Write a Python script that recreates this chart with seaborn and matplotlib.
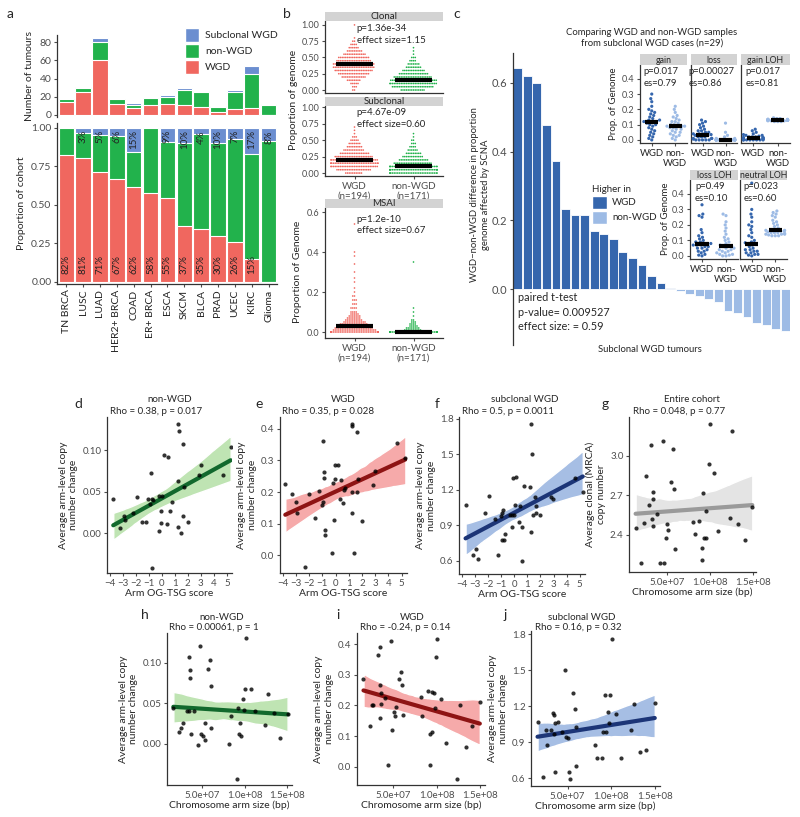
import warnings
import numpy as np
import pandas as pd
import matplotlib
matplotlib.use('Agg')
import matplotlib.pyplot as plt
from matplotlib.collections import PolyCollection
from matplotlib.patches import Patch
import seaborn as sns

warnings.filterwarnings('ignore')

# ---------------- data ----------------
# a: tumours per cancer type
cancer_types = ['TN BRCA', 'LUSC', 'LUAD', 'HER2+ BRCA', 'COAD', 'ER+ BRCA', 'ESCA',
                'SKCM', 'BLCA', 'PRAD', 'UCEC', 'KIRC', 'Glioma']
n_wgd = [14, 25, 60, 12, 8, 11, 12, 11, 9, 3, 7, 8, 0]
n_nonwgd = [3, 5, 20, 5, 3, 8, 8, 16, 16, 6, 18, 37, 11]
n_subclonal = [0, 1, 4, 1, 2, 0, 2, 3, 1, 1, 2, 9, 1]

# b: proportion of genome, read as (value, number of tumours)
prop_bins = [0.0, 0.05, 0.1, 0.15, 0.2, 0.25, 0.3, 0.35, 0.4, 0.45, 0.5,
             0.55, 0.6, 0.65, 0.7, 0.75, 0.8, 0.85, 0.9, 0.95, 1.0]
clonal_wgd_n = [2, 3, 5, 8, 14, 18, 22, 24, 24, 20, 18, 13, 9, 6, 4, 2, 1, 0, 0, 0, 1]
clonal_non_n = [14, 24, 28, 27, 22, 17, 13, 9, 7, 4, 3, 1, 1, 1, 0, 0, 0, 0, 0, 0, 0]
subclonal_wgd_n = [10, 20, 28, 30, 28, 22, 17, 12, 9, 7, 5, 3, 1, 1, 1, 0, 0, 0, 0, 0, 0]
subclonal_non_n = [30, 34, 30, 22, 17, 12, 9, 6, 4, 3, 2, 1, 1, 0, 0, 0, 0, 0, 0, 0, 0]
msai_bins = [0.0, 0.01, 0.02, 0.03, 0.04, 0.05, 0.06, 0.07, 0.08, 0.09, 0.1, 0.12, 0.14,
             0.16, 0.18, 0.2, 0.22, 0.25, 0.27, 0.3, 0.34, 0.35, 0.38, 0.4, 0.54]
msai_wgd_n = [43, 25, 22, 20, 16, 13, 10, 8, 7, 5, 4, 4, 3, 3, 2, 1, 1, 1, 1, 1, 1, 0, 1, 1, 1]
msai_non_n = [135, 10, 8, 5, 4, 3, 2, 0, 1, 0, 1, 1, 0, 0, 0, 0, 0, 0, 0, 0, 0, 1, 0, 0, 0]

# c: WGD - non-WGD difference per subclonal WGD tumour
wgd_minus_nonwgd = [0.644, 0.62, 0.60, 0.477, 0.373, 0.233, 0.216, 0.214, 0.170, 0.160,
                    0.145, 0.107, 0.090, 0.070, 0.037, 0.017, 0.002, -0.007, -0.014,
                    -0.021, -0.028, -0.039, -0.065, -0.070, -0.082, -0.100, -0.104,
                    -0.116, -0.121]
gain_wgd = [0.30, 0.27, 0.25, 0.22, 0.20, 0.19, 0.18, 0.17, 0.16, 0.15, 0.14, 0.13, 0.13, 0.12,
            0.12, 0.12, 0.11, 0.10, 0.10, 0.09, 0.08, 0.07, 0.06, 0.05, 0.04, 0.03, 0.02, 0.01, 0.0]
gain_non = [0.22, 0.20, 0.18, 0.16, 0.15, 0.14, 0.13, 0.12, 0.12, 0.11, 0.10, 0.10, 0.09, 0.09,
            0.09, 0.09, 0.08, 0.08, 0.07, 0.07, 0.06, 0.05, 0.05, 0.04, 0.03, 0.03, 0.02, 0.01, 0.0]
loss_wgd = [0.13, 0.12, 0.11, 0.10, 0.09, 0.08, 0.07, 0.06, 0.06, 0.05, 0.05, 0.04, 0.04, 0.04,
            0.035, 0.03, 0.03, 0.02, 0.02, 0.02, 0.01, 0.01, 0.01, 0.005, 0.0, 0.0, 0.0, 0.0, 0.0]
loss_non = [0.11, 0.05, 0.03, 0.02, 0.01, 0.01, 0.005, 0.005, 0.0, 0.0, 0.0, 0.0, 0.0, 0.0, 0.0,
            0.0, 0.0, 0.0, 0.0, 0.0, 0.0, 0.0, 0.0, 0.0, 0.0, 0.0, 0.0, 0.0, 0.0]
gainloh_wgd = [0.07, 0.06, 0.05, 0.04, 0.035, 0.03, 0.03, 0.025, 0.02, 0.02, 0.02, 0.015, 0.015,
               0.015, 0.015, 0.01, 0.01, 0.01, 0.005, 0.005, 0.005, 0.0, 0.0, 0.0, 0.0, 0.0,
               0.0, 0.0, 0.0]
gainloh_non = [0.145, 0.14, 0.14, 0.135, 0.135, 0.135, 0.13, 0.13, 0.13, 0.13, 0.13, 0.13, 0.13,
               0.13, 0.13, 0.13, 0.13, 0.13, 0.13, 0.13, 0.13, 0.13, 0.13, 0.125, 0.125, 0.125,
               0.12, 0.12, 0.12]
lossloh_wgd = [0.33, 0.27, 0.26, 0.25, 0.17, 0.15, 0.13, 0.12, 0.11, 0.10, 0.09, 0.09, 0.08,
               0.08, 0.08, 0.07, 0.07, 0.07, 0.06, 0.06, 0.05, 0.05, 0.04, 0.03, 0.03, 0.02,
               0.01, 0.005, 0.0]
lossloh_non = [0.27, 0.26, 0.22, 0.20, 0.18, 0.16, 0.14, 0.12, 0.11, 0.10, 0.09, 0.08, 0.07,
               0.065, 0.065, 0.06, 0.05, 0.05, 0.04, 0.04, 0.03, 0.03, 0.02, 0.02, 0.01, 0.01,
               0.005, 0.0, 0.0]
neutral_wgd = [0.47, 0.30, 0.27, 0.25, 0.22, 0.20, 0.19, 0.17, 0.15, 0.13, 0.12, 0.10, 0.09,
               0.085, 0.08, 0.08, 0.07, 0.06, 0.05, 0.04, 0.04, 0.03, 0.03, 0.02, 0.02, 0.01,
               0.01, 0.005, 0.0]
neutral_non = [0.29, 0.28, 0.27, 0.26, 0.25, 0.23, 0.22, 0.21, 0.20, 0.19, 0.18, 0.17, 0.17,
               0.165, 0.165, 0.16, 0.16, 0.155, 0.15, 0.15, 0.15, 0.145, 0.14, 0.14, 0.14,
               0.135, 0.13, 0.13, 0.13]

# d-f: arm OG-TSG score vs average arm-level copy number change
score_d = [-3.72, -3.2, -2.9, -2.82, -2.2, -1.92, -1.49, -1.2, -1.03, -0.85, -0.87, -0.77, -0.7,
           -0.77, -0.23, 0.03, -0.18, -0.03, -0.03, 0.18, 0.46, 0.38, 0.64, 0.77, 1.28, 1.28,
           1.31, 1.28, 1.46, 1.67, 1.69, 1.67, 2.03, 2.85, 3.03, 4.69, 5.3]
change_d = [0.041, 0.006, 0.021, 0.016, 0.024, 0.043, 0.013, 0.013, 0.041, 0.073, 0.035, 0.041,
            0.040, -0.042, 0.045, 0.045, 0.003, 0.027, 0.012, 0.094, 0.092, 0.011, 0.027, 0.038,
            0.063, 0.132, 0.123, 0.008, 0.000, 0.108, 0.056, 0.021, 0.013, 0.070, 0.082, 0.070,
            0.104]
score_e = [-3.8, -3.3, -3.0, -2.91, -1.98, -1.58, -1.28, -0.98, -1.06, -0.93, -0.9, -0.85, -0.83,
           -0.78, -0.23, -0.08, 0.15, -0.08, -0.1, -0.28, 0.3, 0.43, 0.58, 0.65, 0.75, 1.23, 1.26,
           1.61, 1.21, 1.23, 1.41, 1.63, 1.68, 1.98, 2.81, 2.99, 4.65, 5.28, -2.29]
change_e = [0.224, 0.193, 0.169, 0.133, 0.193, 0.119, 0.203, 0.362, 0.159, 0.167, 0.265, 0.246,
            0.079, 0.063, 0.228, 0.285, 0.285, 0.241, 0.110, 0.006, 0.178, 0.238, 0.164, 0.205,
            0.212, 0.415, 0.408, 0.389, 0.201, 0.133, 0.006, 0.199, 0.241, 0.107, 0.221, 0.267,
            0.356, 0.309, -0.039]
score_f = [-3.7, -3.16, -2.89, -2.77, -1.93, -2.2, -1.46, -1.21, -0.99, -0.89, -0.86, -0.91,
           -0.77, -0.67, -0.17, -0.3, -0.15, 0.0, -0.05, 0.17, 0.05, 0.35, 0.47, 0.62, 0.74, 0.62,
           1.31, 1.33, 1.23, 1.31, 1.43, 1.6, 1.68, 1.63, 2.0, 2.79, 2.96, 4.62, 5.23]
change_f = [1.07, 0.65, 0.70, 0.61, 1.15, 1.00, 0.95, 0.65, 0.975, 1.00, 1.03, 0.77, 0.77, 0.825,
            0.88, 0.99, 0.99, 0.99, 1.30, 1.31, 1.07, 0.93, 1.06, 0.88, 1.23, 0.595, 1.76, 1.50,
            1.22, 0.84, 0.99, 1.14, 1.06, 1.00, 0.99, 1.14, 1.12, 1.30, 1.18]

# g: arm size (Mb) vs clonal copy number, whole cohort
size_g_mb = [13.5, 20.0, 23.0, 25.4, 29.6, 31.9, 32.3, 33.5, 33.8, 34.2, 38.1, 45.8, 42.3, 46.5,
             48.8, 50.4, 50.8, 54.6, 57.3, 58.1, 58.8, 80.0, 82.3, 87.7, 90.8, 91.2, 92.3, 93.1,
             95.4, 95.8, 98.5, 99.6, 105.0, 109.6, 122.7, 125.8, 132.7, 140.4, 149.2]
clonal_cn_g = [2.455, 2.19, 2.49, 2.85, 2.63, 3.08, 2.52, 2.73, 2.67, 2.47, 2.56, 3.11, 2.19,
               2.19, 2.375, 2.48, 2.44, 2.80, 3.05, 2.75, 2.29, 2.50, 2.405, 2.51, 2.30, 2.21,
               2.72, 2.38, 2.38, 2.58, 2.94, 3.24, 2.87, 2.43, 2.53, 3.19, 2.48, 2.36, 2.61]

# h-j: arm size (Mb) vs average arm-level copy number change
size_h_mb = [15.5, 22.5, 24.5, 26.9, 31.6, 33.9, 34.3, 35.5, 35.5, 35.9, 40.2, 44.5, 46.9, 48.0,
             50.4, 52.4, 53.1, 56.7, 59.0, 59.8, 60.6, 81.8, 84.1, 90.4, 92.4, 94.3, 93.1, 95.1,
             98.2, 99.0, 100.2, 101.8, 106.9, 111.6, 124.1, 127.3, 134.3, 141.8, 150.8]
change_h = [0.044, 0.015, 0.020, 0.026, 0.040, 0.040, 0.107, 0.091, 0.081, 0.012, 0.040, -0.001,
            0.121, 0.012, 0.010, 0.026, 0.005, 0.093, 0.104, 0.072, 0.020, 0.000, 0.034, -0.043,
            0.044, 0.026, 0.012, 0.010, 0.055, 0.042, 0.068, 0.131, 0.068, 0.040, 0.023, 0.062,
            0.038, 0.007, 0.037]
size_i_mb = [15.5, 22.7, 25.0, 26.5, 31.8, 34.1, 34.9, 34.5, 35.6, 36.0, 39.8, 44.4, 47.4, 48.2,
             50.5, 52.7, 52.4, 56.5, 58.8, 60.0, 60.7, 81.6, 83.5, 89.6, 91.9, 92.6, 94.2, 94.9,
             97.2, 98.0, 99.1, 101.0, 105.6, 110.9, 123.4, 126.8, 133.7, 140.5, 150.0]
change_i = [0.285, 0.132, 0.200, 0.203, 0.363, 0.390, 0.267, 0.158, 0.241, 0.205, 0.223, 0.005,
            0.410, 0.119, 0.179, 0.194, 0.165, 0.285, 0.309, 0.266, 0.170, 0.228, 0.166, 0.247,
            0.005, 0.108, 0.244, 0.112, 0.242, 0.193, 0.358, 0.418, 0.220, 0.079, -0.039, 0.201,
            0.065, 0.133, 0.212]
size_j_mb = [15.5, 22.3, 25.0, 26.5, 31.5, 33.4, 34.5, 35.3, 34.2, 35.6, 39.4, 44.0, 46.7, 47.8,
             50.1, 52.0, 52.4, 56.5, 58.4, 59.2, 60.0, 80.9, 83.5, 89.6, 90.7, 93.0, 94.2, 96.8,
             97.2, 99.1, 100.6, 105.6, 110.9, 123.0, 126.1, 133.3, 140.1, 150.0]
change_j = [1.067, 0.605, 1.0, 0.876, 1.0, 1.139, 1.122, 1.056, 0.967, 0.647, 1.067, 0.984, 1.50,
            0.945, 0.931, 0.647, 0.594, 1.31, 1.177, 1.025, 0.702, 0.876, 0.768, 0.768, 0.987,
            1.296, 0.987, 1.15, 1.056, 1.296, 1.757, 1.136, 0.768, 1.0, 1.216, 0.821, 0.835, 1.227]

# ---------------- style ----------------
RED = '#F0675F'
GREEN = '#22B24C'
BLUE = '#6B8ED0'
DARK_BLUE = '#3566AD'
LIGHT_BLUE = '#9DBBE5'
STRIP = '#D3D3D3'
TICK = '#4D4D4D'

sns.set_style('ticks')
plt.rcParams['font.family'] = ['Lato', 'DejaVu Sans']
plt.rcParams['axes.linewidth'] = 0.9

W, H = 800, 817
fig = plt.figure(figsize=(8, 8.17), dpi=100)


def box(l, t, r, b):
    return [l / W, 1 - b / H, (r - l) / W, (b - t) / H]


def ftext(x, y, s, **kw):
    fig.text(x / W, 1 - y / H, s, **kw)


def style(ax, fs=7):
    sns.despine(ax=ax)
    ax.tick_params(labelsize=fs, colors=TICK, length=2.5, width=0.8, pad=1.5)
    for sp in ['left', 'bottom']:
        ax.spines[sp].set_color('#333333')
    ax.set_xlabel('')
    ax.set_ylabel('')


def strip(ax, label, top, bottom, fs=7):
    bb = ax.get_position()
    s = fig.add_axes([bb.x0, 1 - bottom / H, bb.width, (bottom - top) / H])
    s.set_facecolor(STRIP)
    s.set_xticks([])
    s.set_yticks([])
    for sp in s.spines.values():
        sp.set_visible(False)
    s.text(0.5, 0.45, label, ha='center', va='center', fontsize=fs, transform=s.transAxes)


def swarm_with_median(ax, df, palette, size, med_width):
    sns.swarmplot(data=df, x='grp', y='val', hue='grp', order=['WGD', 'non-WGD'],
                  palette=palette, size=size, legend=False, ax=ax)
    sns.boxplot(data=df, x='grp', y='val', order=['WGD', 'non-WGD'], showbox=False,
                showcaps=False, showfliers=False, whis=0, width=med_width,
                whiskerprops={'visible': False},
                medianprops={'color': 'black', 'linewidth': 3, 'zorder': 5}, ax=ax)


# ---------------- a ----------------
df_a = pd.DataFrame({'type': cancer_types, 'WGD': n_wgd, 'non-WGD': n_nonwgd,
                     'Subclonal WGD': n_subclonal})
df_a['total'] = df_a['WGD'] + df_a['non-WGD'] + df_a['Subclonal WGD']
df_a['wgd_non'] = df_a['WGD'] + df_a['non-WGD']
for col in ['total', 'wgd_non', 'WGD']:
    df_a['p_' + col] = df_a[col] / df_a['total']

bar_kw = dict(width=0.92, saturation=1, edgecolor='white', linewidth=0.8, errorbar=None)

ax_n = fig.add_axes(box(57, 35, 277, 117))
sns.barplot(data=df_a, x='type', y='total', color=BLUE, ax=ax_n, **bar_kw)
sns.barplot(data=df_a, x='type', y='wgd_non', color=GREEN, ax=ax_n, **bar_kw)
sns.barplot(data=df_a, x='type', y='WGD', color=RED, ax=ax_n, **bar_kw)
style(ax_n, 7.5)
ax_n.spines['bottom'].set_visible(False)
ax_n.tick_params(axis='x', length=0, labelbottom=False)
ax_n.set_ylim(-2.2, 87.7)
ax_n.set_yticks([0, 20, 40, 60, 80])
ax_n.set_xlim(-0.55, 12.5)
ax_n.set_ylabel('Number of tumours', fontsize=7.5)
ax_n.legend(handles=[Patch(facecolor=BLUE, edgecolor='white'),
                     Patch(facecolor=GREEN, edgecolor='white'),
                     Patch(facecolor=RED, edgecolor='white')],
            labels=['Subclonal WGD', 'non-WGD', 'WGD'], loc='upper left',
            bbox_to_anchor=(176 / W, 1 - 19 / H), bbox_transform=fig.transFigure,
            frameon=False, fontsize=7.5, handlelength=1.3, handleheight=1.6,
            handletextpad=0.6, labelspacing=0.25)

ax_p = fig.add_axes(box(57, 123, 277, 284))
sns.barplot(data=df_a, x='type', y='p_total', color=BLUE, ax=ax_p, **bar_kw)
sns.barplot(data=df_a, x='type', y='p_wgd_non', color=GREEN, ax=ax_p, **bar_kw)
sns.barplot(data=df_a, x='type', y='p_WGD', color=RED, ax=ax_p, **bar_kw)
style(ax_p, 7.5)
ax_p.set_ylim(-0.013, 1.032)
ax_p.set_xlim(-0.55, 12.5)
ax_p.set_yticks([0, 0.25, 0.5, 0.75, 1.0])
ax_p.set_yticklabels(['0.00', '0.25', '0.50', '0.75', '1.00'])
ax_p.set_xticks(range(len(cancer_types)))
ax_p.set_xticklabels(cancer_types, rotation=90, fontsize=7.5, color='#222222')
ax_p.set_ylabel('Proportion of cohort', fontsize=7.5)
for i, row in df_a.iterrows():
    if row['WGD'] > 0:
        ax_p.text(i, 0.05, f"{round(100 * row['WGD'] / row['total'])}%", rotation=90,
                  ha='center', va='bottom', fontsize=7, color='#222222')
    if row['Subclonal WGD'] > 0:
        ax_p.text(i, 0.985, f"{round(100 * row['Subclonal WGD'] / row['total'])}%",
                  rotation=90, ha='center', va='top', fontsize=7, color='#222222')

# ---------------- b ----------------
b_palette = {'WGD': RED, 'non-WGD': GREEN}


def b_frame(bins, n_w, n_n):
    vals = np.concatenate([np.repeat(bins, n_w), np.repeat(bins, n_n)])
    grp = ['WGD'] * int(sum(n_w)) + ['non-WGD'] * int(sum(n_n))
    return pd.DataFrame({'grp': grp, 'val': vals})


panels_b = [
    ('Clonal', (325, 21, 443, 93), (12, 21), b_frame(prop_bins, clonal_wgd_n, clonal_non_n),
     (-0.046, 1.06), 'p=1.36e-34\neffect size=1.15', 0.96, False),
    ('Subclonal', (325, 106, 443, 176), (97, 106),
     b_frame(prop_bins, subclonal_wgd_n, subclonal_non_n),
     (-0.045, 1.02), 'p=4.67e-09\neffect size=0.60', 0.97, True),
    ('MSAI', (325, 208, 443, 338), (199, 208), b_frame(msai_bins, msai_wgd_n, msai_non_n),
     (-0.03, 0.62), 'p=1.2e-10\neffect size=0.67', 0.95, True),
]
for name, rect, strip_px, df_b, ylim, ann, ann_y, show_x in panels_b:
    ax = fig.add_axes(box(*rect))
    swarm_with_median(ax, df_b, b_palette, 1.2, 0.62)
    style(ax, 6.5)
    ax.set_ylim(*ylim)
    ax.set_xlim(-0.5, 1.5)
    if name == 'MSAI':
        ax.set_yticks([0, 0.2, 0.4, 0.6])
        ax.set_yticklabels(['0.0', '0.2', '0.4', '0.6'])
    else:
        ax.set_yticks([0, 0.25, 0.5, 0.75, 1.0])
        ax.set_yticklabels(['0.00', '0.25', '0.50', '0.75', '1.00'])
    if show_x:
        ax.set_xticks([0, 1])
        ax.set_xticklabels(['WGD\n(n=194)', 'non-WGD\n(n=171)'], fontsize=7)
    else:
        ax.tick_params(axis='x', length=0, labelbottom=False)
    ax.text(0.27, ann_y, ann, transform=ax.transAxes, fontsize=7,
            va='top', ha='left', linespacing=1.4)
    strip(ax, name, *strip_px)

ftext(293, 100, 'Proportion of genome', rotation=90, ha='center', va='center', fontsize=7.5)
ftext(297, 272, 'Proportion of Genome', rotation=90, ha='center', va='center', fontsize=7.5)

# ---------------- c ----------------
diff = np.array(wgd_minus_nonwgd)
df_c = pd.DataFrame({'tumour': [f'T{i + 1}' for i in range(len(diff))], 'diff': diff,
                     'higher': np.where(diff > 0, 'WGD', 'non-WGD')})
ax_c = fig.add_axes(box(513, 53, 790, 345))
sns.barplot(data=df_c, x='tumour', y='diff', hue='higher',
            palette={'WGD': DARK_BLUE, 'non-WGD': LIGHT_BLUE}, dodge=False, width=0.92,
            saturation=1, edgecolor='white', linewidth=0.6, errorbar=None, legend=False,
            ax=ax_c)
style(ax_c, 8)
ax_c.spines['bottom'].set_visible(False)
ax_c.set_xticks([])
ax_c.set_xlim(-0.5, 28.5)
ax_c.set_ylim(-0.163, 0.687)
ax_c.set_yticks([0, 0.2, 0.4, 0.6])
ax_c.set_yticklabels(['0.0', '0.2', '0.4', '0.6'])
ax_c.legend(handles=[Patch(facecolor=DARK_BLUE), Patch(facecolor=LIGHT_BLUE)],
            labels=['WGD', 'non-WGD'], title='Higher in', loc='upper left',
            bbox_to_anchor=(583 / W, 1 - 176 / H), bbox_transform=fig.transFigure,
            frameon=False, fontsize=7, title_fontsize=7, handlelength=1.6,
            handleheight=1.7, handletextpad=0.5, labelspacing=0.2, alignment='left')

ftext(652, 38, 'Comparing WGD and non-WGD samples\nfrom subclonal WGD cases (n=29)',
      ha='center', va='center', fontsize=6.8, linespacing=1.3)
ftext(480, 195, 'WGD\u2212non-WGD difference in proportion\ngenome affected by SCNA',
      rotation=90, ha='center', va='center', fontsize=6.8, linespacing=1.3)
ftext(518, 312, 'paired t-test\np-value= 0.009527\neffect size: = 0.59', ha='left',
      va='center', fontsize=7.8, linespacing=1.35)
ftext(650, 349, 'Subclonal WGD tumours', ha='center', va='center', fontsize=6.8)

c_palette = {'WGD': DARK_BLUE, 'non-WGD': LIGHT_BLUE}
insets = [
    ('gain', (640, 65, 687, 143), (54, 65), gain_wgd, gain_non, 'p=0.017\nes=0.79', True),
    ('loss', (691, 65, 737, 143), (54, 65), loss_wgd, loss_non, 'p=0.00027\nes=0.86', False),
    ('gain LOH', (741, 65, 790, 143), (54, 65), gainloh_wgd, gainloh_non,
     'p=0.017\nes=0.81', False),
    ('loss LOH', (690, 180, 738, 259), (170, 180), lossloh_wgd, lossloh_non,
     'p=0.49\nes=0.10', True),
    ('neutral LOH', (740, 180, 787, 259), (170, 180), neutral_wgd, neutral_non,
     'p=0.023\nes=0.60', False),
]
for name, rect, strip_px, v_w, v_n, ann, show_y in insets:
    ax = fig.add_axes(box(*rect))
    df_i = pd.DataFrame({'grp': ['WGD'] * len(v_w) + ['non-WGD'] * len(v_n), 'val': v_w + v_n})
    swarm_with_median(ax, df_i, c_palette, 2.3, 0.55)
    style(ax, 6.5)
    ax.set_ylim(-0.02, 0.49)
    ax.set_xlim(-0.5, 1.5)
    ax.set_yticks([0, 0.1, 0.2, 0.3, 0.4])
    if show_y:
        ax.set_yticklabels(['0.0', '0.1', '0.2', '0.3', '0.4'])
    else:
        ax.tick_params(axis='y', length=0, labelleft=False)
    ax.set_xticks([0, 1])
    ax.set_xticklabels(['WGD', 'non-\nWGD'], fontsize=6.8, color='#222222', va='top')
    ax.text(0.45, 0.97, ann, transform=ax.transAxes, ha='center', va='top',
            multialignment='left', fontsize=6.8, linespacing=1.35)
    strip(ax, name, *strip_px, fs=6.3)

ftext(614, 104, 'Prop. of Genome', rotation=90, ha='center', va='center', fontsize=7)
ftext(665, 219, 'Prop. of Genome', rotation=90, ha='center', va='center', fontsize=7)

# ---------------- d-j ----------------
NON_LINE, NON_FILL = '#12692D', '#BFE4B3'
WGD_LINE, WGD_FILL = '#8E1414', '#F6AAAA'
SUB_LINE, SUB_FILL = '#1C3577', '#A6BEE4'
ALL_LINE, ALL_FILL = '#9A9A9A', '#E4E4E4'


def reg_panel(rect, x, y, line_c, fill_c, xlim, ylim, yticks, yfmt):
    ax = fig.add_axes(box(*rect))
    sns.regplot(x=np.asarray(x), y=np.asarray(y), ax=ax, color=line_c, n_boot=400, seed=3,
                scatter_kws=dict(s=9, color='black', linewidths=0, zorder=3),
                line_kws=dict(lw=3, zorder=2))
    for coll in ax.collections:
        if isinstance(coll, PolyCollection):
            coll.set_facecolor(fill_c)
            coll.set_alpha(1)
            coll.set_zorder(1)
    style(ax, 7)
    ax.set_xlim(*xlim)
    ax.set_ylim(*ylim)
    ax.set_yticks(yticks)
    ax.set_yticklabels([yfmt.format(v) for v in yticks])
    return ax


score_lim = (-4.2, 5.4)
t_non = [0, 0.05, 0.10]
t_wgd = [0, 0.1, 0.2, 0.3, 0.4]
t_sub = [0.6, 0.9, 1.2, 1.5, 1.8]
arm_ticks = [5e7, 1e8, 1.5e8]
arm_labels = ['5.0e+07', '1.0e+08', '1.5e+08']
cn_label = 'Average arm-level copy\nnumber change'

row2 = [
    ('d', (107, 417, 232, 573), score_d, change_d, NON_LINE, NON_FILL, (-0.048, 0.14), t_non,
     '{:.2f}', 'non-WGD', 'Rho = 0.38, p = 0.017', 78, 170, 110),
    ('e', (280, 417, 407, 573), score_e, change_e, WGD_LINE, WGD_FILL, (-0.057, 0.438), t_wgd,
     '{:.1f}', 'WGD', 'Rho = 0.35, p = 0.028', 259, 343, 282),
    ('f', (459, 417, 585, 574), score_f, change_f, SUB_LINE, SUB_FILL, (0.486, 1.816), t_sub,
     '{:.1f}', 'subclonal WGD', 'Rho = 0.5, p = 0.0011', 437, 525, 462),
]
for letter, rect, x, y, lc, fc, ylim, yt, fmt, title, rho, lx, tx, rx in row2:
    ax = reg_panel(rect, x, y, lc, fc, score_lim, ylim, yt, fmt)
    ax.set_xticks(range(-4, 6))
    ax.set_xlabel('Arm OG-TSG score', fontsize=7.5, labelpad=1)
    ax.set_ylabel(cn_label, fontsize=7.5, labelpad=3)
    ftext(lx, 404, letter, fontsize=10, ha='center', va='center')
    ftext(tx, 399, title, fontsize=7, ha='center', va='center')
    ftext(rx, 412, rho, fontsize=7, ha='left', va='center')

ax_g = reg_panel((629, 417, 756, 572), np.array(size_g_mb) * 1e6, clonal_cn_g, ALL_LINE,
                 ALL_FILL, (5.8e6, 1.535e8), (2.119, 3.296), [2.4, 2.7, 3.0], '{:.1f}')
ax_g.set_xticks(arm_ticks)
ax_g.set_xticklabels(arm_labels)
ax_g.set_xlabel('Chromosome arm size (bp)', fontsize=7.5, labelpad=1)
ax_g.set_ylabel('Average clonal (MRCA)\ncopy number', fontsize=7.5, labelpad=3)
ftext(605, 404, 'g', fontsize=10, ha='center', va='center')
ftext(692, 399, 'Entire cohort', fontsize=7, ha='center', va='center')
ftext(633, 412, 'Rho = 0.048, p = 0.77', fontsize=7, ha='left', va='center')

row3 = [
    ('h', (167, 633, 292, 785), size_h_mb, change_h, NON_LINE, NON_FILL, (-0.051, 0.137),
     t_non, '{:.2f}', 'non-WGD', 'Rho = 0.00061, p = 1', 145, 222, 169),
    ('i', (357, 633, 485, 785), size_i_mb, change_i, WGD_LINE, WGD_FILL, (-0.059, 0.436),
     t_wgd, '{:.1f}', 'WGD', 'Rho = -0.24, p = 0.14', 338, 412, 360),
    ('j', (531, 631, 660, 786), size_j_mb, change_j, SUB_LINE, SUB_FILL, (0.534, 1.825),
     t_sub, '{:.1f}', 'subclonal WGD', 'Rho = 0.16, p = 0.32', 505, 582, 535),
]
for letter, rect, x, y, lc, fc, ylim, yt, fmt, title, rho, lx, tx, rx in row3:
    ax = reg_panel(rect, np.array(x) * 1e6, y, lc, fc, (8e6, 1.56e8), ylim, yt, fmt)
    ax.set_xticks(arm_ticks)
    ax.set_xticklabels(arm_labels)
    ax.set_xlabel('Chromosome arm size (bp)', fontsize=7.5, labelpad=1)
    ax.set_ylabel(cn_label, fontsize=7.5, labelpad=3)
    ftext(lx, 615, letter, fontsize=10, ha='center', va='center')
    ftext(tx, 617, title, fontsize=7, ha='center', va='center')
    ftext(rx, 628, rho, fontsize=7, ha='left', va='center')

ftext(10, 14, 'a', fontsize=10, ha='center', va='center')
ftext(287, 14, 'b', fontsize=10, ha='center', va='center')
ftext(457, 14, 'c', fontsize=10, ha='center', va='center')

fig.savefig('out.png', dpi=100)
